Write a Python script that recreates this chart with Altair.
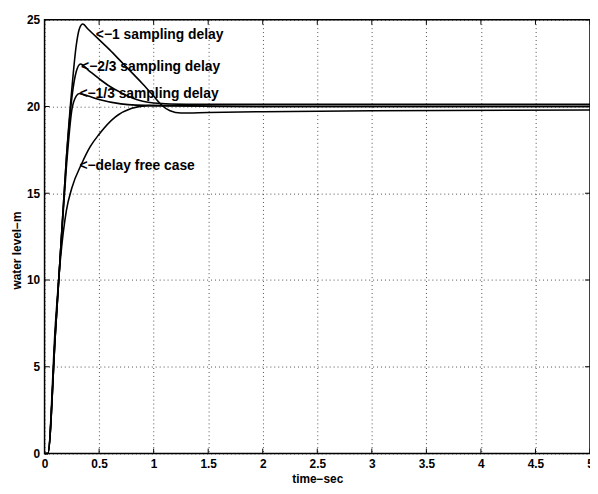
import altair as alt
import pandas as pd

# ---- data ----
t_d1 = [0, 0.03, 0.1, 0.15, 0.2, 0.25, 0.29, 0.32, 0.35, 0.4, 0.5, 0.6, 0.7, 0.8, 0.9, 1.0, 1.07, 1.15, 1.25, 1.5, 2.0, 3.0, 5.0]
y_d1 = [0, 0, 7, 12, 17, 21, 23.5, 24.5, 24.75, 24.45, 23.85, 23.25, 22.6, 21.95, 21.3, 20.6, 20.1, 19.75, 19.62, 19.65, 19.7, 19.75, 19.8]

t_d23 = [0, 0.03, 0.1, 0.15, 0.2, 0.25, 0.29, 0.33, 0.4, 0.5, 0.6, 0.7, 0.8, 0.9, 1.0, 1.3, 2.0, 5.0]
y_d23 = [0, 0, 7, 12, 17, 20.5, 22.0, 22.45, 22.1, 21.6, 21.15, 20.8, 20.5, 20.3, 20.2, 20.12, 20.12, 20.12]

t_d13 = [0, 0.03, 0.1, 0.15, 0.2, 0.25, 0.29, 0.32, 0.4, 0.5, 0.7, 1.0, 2.0, 5.0]
y_d13 = [0, 0, 7, 12, 16.5, 19.8, 20.6, 20.75, 20.6, 20.4, 20.15, 20.05, 20.0, 20.0]

t_d0 = [0, 0.03, 0.1, 0.15, 0.2, 0.25, 0.34, 0.42, 0.5, 0.65, 0.8, 0.95, 1.2, 1.6, 5.0]
y_d0 = [0, 0, 7.5, 11.5, 14.0, 15.3, 16.7, 17.7, 18.4, 19.4, 19.9, 20.05, 20.05, 20.0, 20.0]

label_text = ["<\u22121 sampling delay", "<\u22122/3 sampling delay", "<\u22121/3 sampling delay", "<\u2212delay free case"]
label_t = [0.47, 0.335, 0.32, 0.32]
label_y = [24.1, 22.3, 20.7, 16.55]

x_ticks = [0, 0.5, 1, 1.5, 2, 2.5, 3, 3.5, 4, 4.5, 5]
y_ticks = [0, 5, 10, 15, 20, 25]

rows = []
for name, ts, ys in [("d1", t_d1, y_d1), ("d23", t_d23, y_d23), ("d13", t_d13, y_d13), ("d0", t_d0, y_d0)]:
    for t, y in zip(ts, ys):
        rows.append({"series": name, "t": t, "y": y})
df = pd.DataFrame(rows)
labels = pd.DataFrame({"text": label_text, "t": label_t, "y": label_y})
xt = pd.DataFrame({"t": x_ticks})
yt = pd.DataFrame({"y": y_ticks})

W, H = 552, 439
FONT = "Liberation Sans"

xscale = alt.Scale(domain=[0, 5], nice=False, zero=False)
yscale = alt.Scale(domain=[0, 25], nice=False, zero=False)

xaxis = alt.Axis(values=x_ticks, title="time\u2212sec", grid=True, gridColor="black", gridDash=[1, 3],
                 gridOpacity=0.7, tickSize=0, domain=False, labelPadding=5, titlePadding=4,
                 labelFont=FONT, labelFontSize=12, labelFontWeight="bold", labelColor="black",
                 titleFont=FONT, titleFontSize=12, titleFontWeight="bold", titleColor="black",
                 labelFlush=False, format="~g")
yaxis = alt.Axis(values=y_ticks, title="water level\u2212m", grid=True, gridColor="black", gridDash=[1, 3],
                 gridOpacity=0.7, tickSize=0, domain=False, labelPadding=5,
                 labelFont=FONT, labelFontSize=12, labelFontWeight="bold", labelColor="black",
                 titleFont=FONT, titleFontSize=12, titleFontWeight="bold", titleColor="black",
                 titleX=-21, titleY=233, labelFlush=False)

lines = alt.Chart(df).mark_line(color="black", strokeWidth=1.6, interpolate="monotone").encode(
    x=alt.X("t:Q", scale=xscale, axis=xaxis),
    y=alt.Y("y:Q", scale=yscale, axis=yaxis),
    detail="series:N",
)

text = alt.Chart(labels).mark_text(align="left", baseline="middle", font=FONT, fontSize=14,
                                   fontWeight="bold", color="black").encode(
    x=alt.X("t:Q", scale=xscale), y=alt.Y("y:Q", scale=yscale), text="text:N")

tick_len = 5
xb = alt.Chart(xt).mark_rule(color="black", strokeWidth=1).encode(
    x=alt.X("t:Q", scale=xscale), y=alt.value(H), y2=alt.value(H - tick_len))
xtop = alt.Chart(xt).mark_rule(color="black", strokeWidth=1).encode(
    x=alt.X("t:Q", scale=xscale), y=alt.value(0), y2=alt.value(tick_len))
yl = alt.Chart(yt).mark_rule(color="black", strokeWidth=1).encode(
    y=alt.Y("y:Q", scale=yscale), x=alt.value(0), x2=alt.value(tick_len))
yr = alt.Chart(yt).mark_rule(color="black", strokeWidth=1).encode(
    y=alt.Y("y:Q", scale=yscale), x=alt.value(W), x2=alt.value(W - tick_len))

chart = alt.layer(lines, text, xb, xtop, yl, yr).properties(
    width=W, height=H,
    autosize=alt.AutoSizeParams(type="none"),
    padding={"left": 37, "top": 9, "right": 0, "bottom": 30},
    background="white",
).configure_view(stroke="black", strokeWidth=1.5)

chart.save("out.html", embed_options={"renderer": "svg", "actions": False})
